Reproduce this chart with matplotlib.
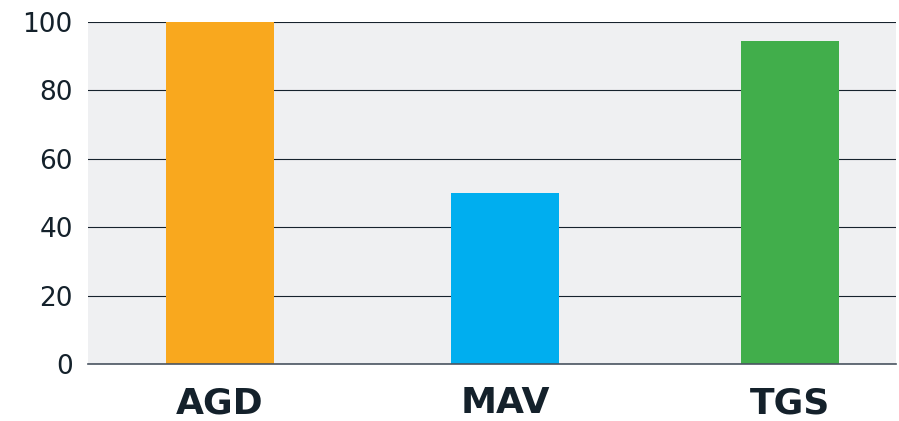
import matplotlib
matplotlib.use('Agg')
import matplotlib.pyplot as plt

categories = ['AGD', 'MAV', 'TGS']
values = [100, 50, 94.5]
colors = ['#f9a81e', '#00aeef', '#41ae4b']
yticks = [0, 20, 40, 60, 80, 100]

fig = plt.figure(figsize=(8.99, 4.21), dpi=100)
ax = fig.add_axes([88 / 899, 57 / 421, 808 / 899, 342 / 421])
ax.set_facecolor('#eff0f2')

x = range(len(categories))
# the last bar is a bit narrower in the original
ax.bar(x, values, width=[0.379, 0.379, 0.347], color=colors, zorder=3)

ax.set_xlim(-0.463, 2.372)
ax.set_ylim(0, 100)
ax.set_yticks(yticks)
ax.set_xticks(list(x))
ax.set_xticklabels(categories, fontsize=26, fontweight='bold', family='DejaVu Sans', color='#14212b')
ax.set_yticklabels([str(v) for v in yticks], fontsize=19, family='DejaVu Sans', color='#14212b')
ax.tick_params(axis='both', length=0)
ax.tick_params(axis='y', pad=11)
ax.tick_params(axis='x', pad=16)

ax.grid(axis='y', color='#16222d', linewidth=0.8, zorder=1)
ax.grid(axis='x', visible=False)
for s in ['left', 'right', 'top']:
    ax.spines[s].set_visible(False)
ax.spines['bottom'].set_color('#4a5561')
ax.spines['bottom'].set_linewidth(1.2)
ax.spines['bottom'].set_zorder(4)

fig.savefig('out.png', dpi=100)
